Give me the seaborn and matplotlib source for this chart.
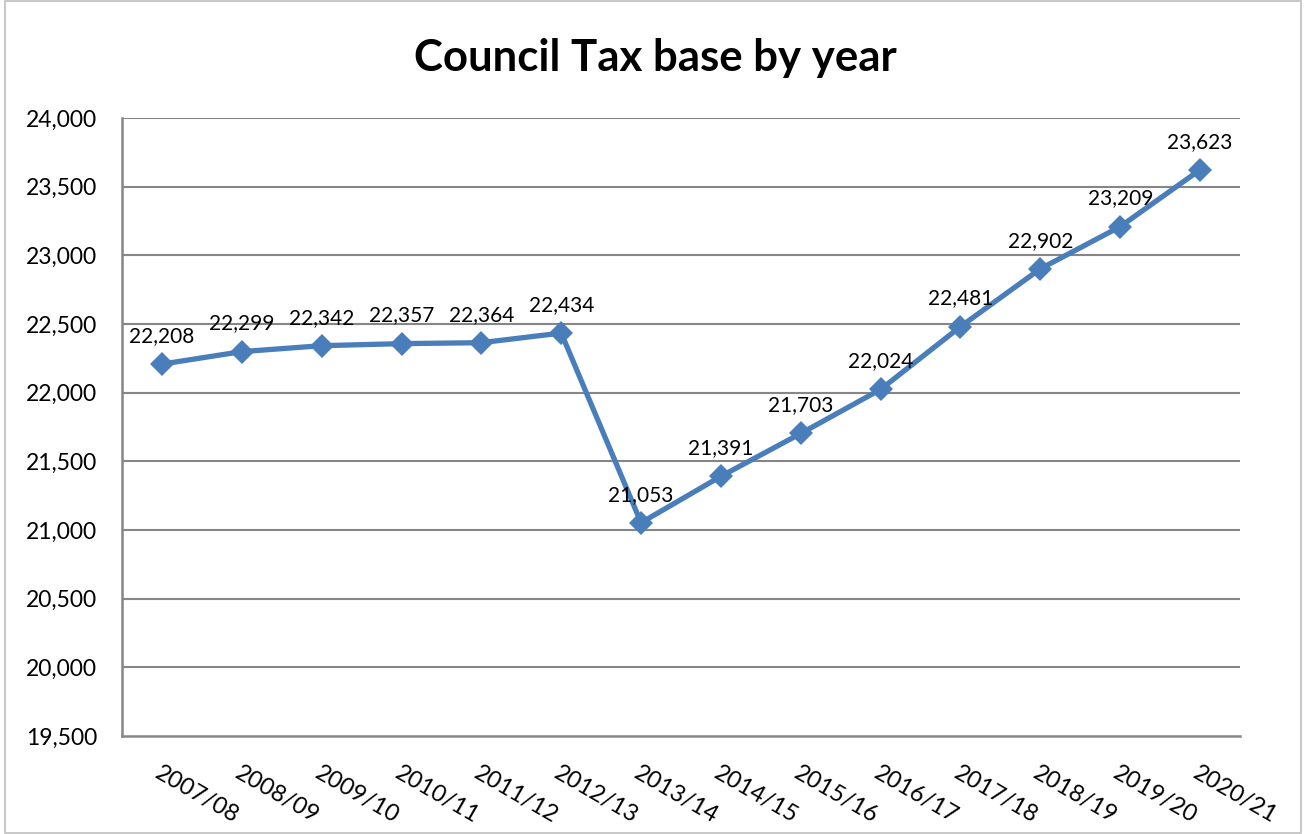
import matplotlib
matplotlib.use("Agg")
import matplotlib.pyplot as plt
import seaborn as sns
import pandas as pd
from matplotlib.patches import Rectangle

years = ["2007/08", "2008/09", "2009/10", "2010/11", "2011/12", "2012/13", "2013/14",
         "2014/15", "2015/16", "2016/17", "2017/18", "2018/19", "2019/20", "2020/21"]
values = [22208, 22299, 22342, 22357, 22364, 22434, 21053,
          21391, 21703, 22024, 22481, 22902, 23209, 23623]
yticks = [19500, 20000, 20500, 21000, 21500, 22000, 22500, 23000, 23500, 24000]

sns.set_theme(style="white")
plt.rcParams['font.family'] = ['Lato', 'DejaVu Sans']

df = pd.DataFrame({"year": years, "value": values, "idx": range(len(years))})

fig = plt.figure(figsize=(13.04, 8.34), dpi=100)
ax = fig.add_axes([122/1304, 1-736/834, (1240-122)/1304, (736-118)/834])

grid_c = "#868686"
for t in yticks[1:]:
    ax.axhline(t, color=grid_c, lw=1.5, zorder=0)

sns.lineplot(data=df, x="idx", y="value", ax=ax, color="#4A7EBB", lw=3.8,
             marker="D", markersize=12, markeredgewidth=0, zorder=3)

ax.set_xlim(-0.5, len(years) - 0.5)
ax.set_ylim(19500, 24000)
ax.set_yticks(yticks)
ax.set_yticklabels([f"{t:,}" for t in yticks], fontsize=16.5, color="black")
ax.set_xticks(range(len(years)))
ax.set_xticklabels(years, fontsize=17, rotation=-30, ha="left", va="top",
                   rotation_mode="anchor", color="black")
ax.tick_params(axis="y", length=0, pad=18)
ax.tick_params(axis="x", length=0, pad=19)
ax.set_xlabel("")
ax.set_ylabel("")
for s in ["top", "right"]:
    ax.spines[s].set_visible(False)
for s in ["left", "bottom"]:
    ax.spines[s].set_color(grid_c)
    ax.spines[s].set_linewidth(1.8)

for i, v in enumerate(values):
    ax.annotate(f"{v:,}", (i, v), xytext=(0, 13), textcoords="offset points",
                ha="center", va="bottom", fontsize=15, color="black")

fig.text(655/1304, 1-58/834, "Council Tax base by year", ha="center", va="center",
         fontsize=31.5, fontweight="bold", color="black")

fig.patches.append(Rectangle((5/1304, 1/834), 1296/1304, 832/834, transform=fig.transFigure,
                             fill=False, edgecolor="#BFBFBF", lw=1.2))

fig.savefig("out.png", dpi=100)
